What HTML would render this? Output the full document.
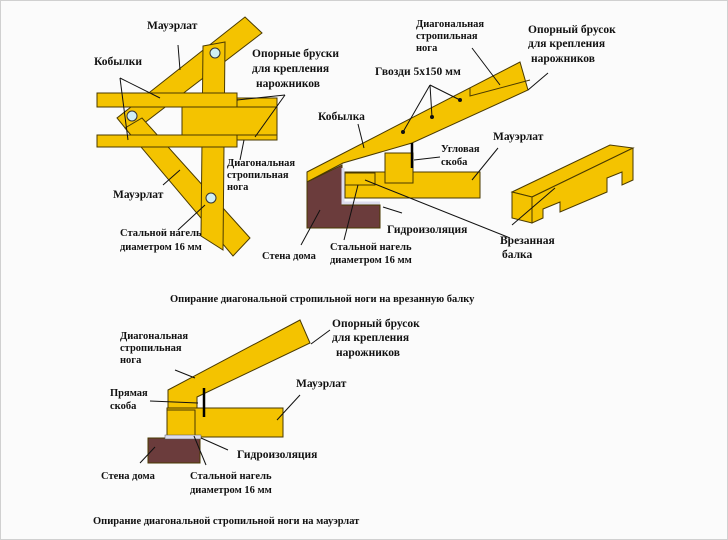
<!DOCTYPE html>
<html><head><meta charset="utf-8"><style>
html,body{margin:0;padding:0;background:#fff}
svg{display:block}
text{font-family:"Liberation Serif","DejaVu Serif",serif;font-size:11.5px;fill:#111;font-weight:bold}
.s{font-size:10.5px}
</style></head><body>
<svg width="728" height="540" viewBox="0 0 728 540" xmlns="http://www.w3.org/2000/svg">
<rect x="0" y="0" width="728" height="540" fill="#fbfbfb"/>
<rect x="0.5" y="0.5" width="727" height="539" fill="none" stroke="#d0d0d0"/>
<g fill="#f4c300" stroke="#4a3a00" stroke-width="1">
<polygon points="245,17 262,33 130,134 117,118"/>
<polygon points="125,128 142,118 250,238 233,256"/>
<polygon points="203,46 225,42 223,250 201,236"/>
<rect x="97" y="93" width="140" height="14"/>
<rect x="97" y="135" width="140" height="12"/>
<rect x="182" y="107" width="95" height="28"/>
<rect x="237" y="98" width="40" height="9"/>
<rect x="237" y="135" width="40" height="5"/>
</g>
<g fill="#cfeef5" stroke="#333">
<circle cx="215" cy="53" r="5"/><circle cx="132" cy="116" r="5"/><circle cx="211" cy="198" r="5"/>
</g>
<g stroke="#4a3a00" stroke-width="1">
<polygon fill="#f4c300" points="307,172 520,62 528,90 412,143 343,163 307,182"/>
<polygon fill="#6b3c3c" points="307,182 342,165 342,205 380,205 380,228 307,228"/>
<polygon fill="#f4c300" points="345,172 480,172 480,198 345,198"/>
<rect fill="#f4c300" x="385" y="153" width="28" height="30"/>
<rect fill="#f4c300" x="345" y="173" width="30" height="12"/>
<polyline fill="none" points="470,88 470,96 530,80"/>
</g>
<polyline points="343,168 343,203 380,203" fill="none" stroke="#dde" stroke-width="3"/>
<line x1="412" y1="143" x2="412" y2="168" stroke="#000" stroke-width="2.5"/>
<g stroke="#4a3a00" stroke-width="1" fill="#f4c300">
<polygon points="512,192 610,145 633,148 532,197"/>
<polygon points="532,197 633,148 633,180 622,185 622,172 607,178 607,192 560,212 560,202 543,209 543,218 532,223"/>
<polygon points="512,192 532,197 532,223 512,218"/>
</g>
<g fill="#111"><circle cx="403" cy="132" r="2"/><circle cx="432" cy="117" r="2"/><circle cx="460" cy="100" r="2"/></g>
<g stroke="#4a3a00" stroke-width="1" fill="#f4c300">
<polygon points="168,390 300,320 310,343 197,397 197,410 168,410"/>
<rect x="167" y="408" width="116" height="29"/>
<rect x="167" y="410" width="28" height="27"/>
<rect x="148" y="438" width="52" height="25" fill="#6b3c3c"/>
</g>
<rect x="165" y="435" width="36" height="4" fill="#dde" stroke="#555" stroke-width="0.5"/>
<line x1="204" y1="388" x2="204" y2="417" stroke="#000" stroke-width="2.5"/>
<g stroke="#111" stroke-width="1" fill="none">
<line x1="178" y1="45" x2="180" y2="70"/>
<line x1="120" y1="78" x2="160" y2="98"/><line x1="120" y1="78" x2="128" y2="140"/>
<line x1="285" y1="95" x2="255" y2="137"/><line x1="285" y1="95" x2="237" y2="100"/>
<line x1="163" y1="185" x2="180" y2="170"/>
<line x1="240" y1="160" x2="244" y2="140"/>
<line x1="178" y1="230" x2="205" y2="205"/>
<line x1="430" y1="85" x2="403" y2="132"/><line x1="430" y1="85" x2="432" y2="117"/><line x1="430" y1="85" x2="460" y2="100"/>
<line x1="472" y1="48" x2="500" y2="85"/>
<line x1="548" y1="73" x2="528" y2="90"/>
<line x1="358" y1="124" x2="364" y2="148"/>
<line x1="440" y1="157" x2="414" y2="160"/>
<line x1="498" y1="148" x2="472" y2="180"/>
<line x1="365" y1="180" x2="510" y2="238"/>
<line x1="512" y1="225" x2="555" y2="188"/>
<line x1="383" y1="207" x2="402" y2="213"/>
<line x1="301" y1="245" x2="320" y2="210"/>
<line x1="344" y1="240" x2="358" y2="185"/>
<line x1="175" y1="370" x2="195" y2="378"/>
<line x1="150" y1="401" x2="198" y2="403"/>
<line x1="311" y1="344" x2="330" y2="330"/>
<line x1="277" y1="420" x2="300" y2="395"/>
<line x1="201" y1="438" x2="228" y2="450"/>
<line x1="140" y1="463" x2="155" y2="447"/>
<line x1="206" y1="465" x2="194" y2="436"/>
</g>
<text x="147" y="29">Мауэрлат</text>
<text x="94" y="65">Кобылки</text>
<text x="252" y="57">Опорные бруски</text>
<text x="252" y="72">для крепления</text>
<text x="256" y="87">нарожников</text>
<text x="227" y="166" class="s">Диагональная</text>
<text x="227" y="178" class="s">стропильная</text>
<text x="227" y="190" class="s">нога</text>
<text x="113" y="198">Мауэрлат</text>
<text x="120" y="236" class="s">Стальной нагель</text>
<text x="120" y="250" class="s">диаметром 16 мм</text>
<text x="262" y="259" class="s">Стена дома</text>
<text x="416" y="27" class="s">Диагональная</text>
<text x="416" y="39" class="s">стропильная</text>
<text x="416" y="51" class="s">нога</text>
<text x="528" y="33">Опорный брусок</text>
<text x="528" y="47">для крепления</text>
<text x="531" y="62">нарожников</text>
<text x="375" y="75">Гвозди 5х150 мм</text>
<text x="318" y="120">Кобылка</text>
<text x="493" y="140">Мауэрлат</text>
<text x="441" y="152" class="s">Угловая</text>
<text x="441" y="165" class="s">скоба</text>
<text x="387" y="233">Гидроизоляция</text>
<text x="330" y="250" class="s">Стальной нагель</text>
<text x="330" y="263" class="s">диаметром 16 мм</text>
<text x="500" y="244">Врезанная</text>
<text x="502" y="258">балка</text>
<text x="170" y="302" class="s">Опирание диагональной стропильной ноги на врезанную балку</text>
<text x="120" y="339" class="s">Диагональная</text>
<text x="120" y="351" class="s">стропильная</text>
<text x="120" y="363" class="s">нога</text>
<text x="332" y="327">Опорный брусок</text>
<text x="332" y="341">для крепления</text>
<text x="336" y="356">нарожников</text>
<text x="296" y="387">Мауэрлат</text>
<text x="110" y="396" class="s">Прямая</text>
<text x="110" y="409" class="s">скоба</text>
<text x="237" y="458">Гидроизоляция</text>
<text x="101" y="479" class="s">Стена дома</text>
<text x="190" y="479" class="s">Стальной нагель</text>
<text x="190" y="493" class="s">диаметром 16 мм</text>
<text x="93" y="524" class="s">Опирание диагональной стропильной ноги на мауэрлат</text>
</svg>
</body></html>
